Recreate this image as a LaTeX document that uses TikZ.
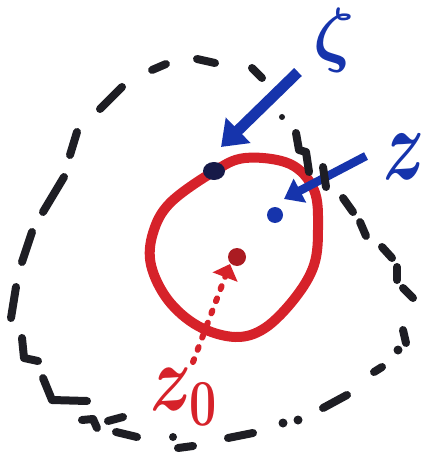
\documentclass[tikz,border=0pt]{standalone}
\usetikzlibrary{arrows.meta}
\definecolor{ink}{RGB}{30,30,36}
\definecolor{mred}{RGB}{214,34,42}
\definecolor{mblue}{RGB}{22,52,172}
\definecolor{navy}{RGB}{22,26,72}
\begin{document}
\begin{tikzpicture}[x=1pt,y=-1pt,
  inkdash/.style={draw=ink,line width=8pt,line cap=round,line join=round},
  inkdot/.style={fill=ink},
  redline/.style={draw=mred,line width=10pt,line cap=round,line join=round},
  bigarrow/.style={draw=mblue,line width=11pt,-{Triangle[length=24pt,width=34pt]}},
  smallarrow/.style={draw=mblue,line width=8.5pt,-{Triangle[length=18pt,width=26pt]}},
  dotarrow/.style={draw=mred,line width=6pt,line cap=round,dash pattern=on 3pt off 10pt,-{Triangle[length=14pt,width=26pt]}},
  bluelabel/.style={text=mblue,font=\Huge\boldmath,inner sep=0pt},
  redlabel/.style={text=mred,font=\Huge\boldmath,inner sep=0pt}]
\useasboundingbox (0,0) rectangle (425,457);

% red circle
\draw[redline] plot[smooth cycle,tension=0.6] coordinates {
  (213,172) (245,158) (290,164) (314,190) (318,228) (314,265)
  (295,298) (265,328) (235,337) (198,326) (168,300) (151,265)
  (153,233) (170,203)};

% center z0 and dotted arrow
\fill[mred!80!black] (237,257) circle (9pt);
\coordinate (zotail) at (193,362);
\coordinate (zotip) at (230,264);
\draw[dotarrow] (zotail) -- (zotip);
\node[redlabel,xscale=2.8,yscale=3.8] (zolabel) at (184,397) {$z_{\scriptscriptstyle 0}$};

% blue arrows and points
\coordinate (zetatail) at (298,72);
\coordinate (zetatip) at (221,147);
\draw[bigarrow] (zetatail) -- (zetatip);
\coordinate (ztail) at (366,156);
\coordinate (ztip) at (284,199);
\draw[smallarrow] (ztail) -- (ztip);
\fill[navy] (214,171) ellipse (11pt and 9pt);
\fill[mblue] (275,215) circle (8pt);
\node[bluelabel,scale=2.9] (zetalabel) at (334,40) {$\zeta$};
\node[bluelabel,xscale=2.8,yscale=4.1] (zlabel) at (404,157) {$z$};

% dashed outer contour
\draw[inkdash] (197,59) -- (215,63);
\draw[inkdash] (152,70) -- (166,64);
\draw[inkdash] (100,109) -- (122,87);
\draw[inkdash] (70,155) -- (77,132);
\draw[inkdash] (43,212) -- (64,177);
\draw[inkdash] (32,232) -- (22,262);
\draw[inkdash] (16,287) -- (11,318);
\draw[inkdash] (22,338) -- (24,358) -- (38,361);
\draw[inkdash] (43,378) -- (52,400) -- (87,401);
\draw[inkdash] (82,420) -- (93,419) -- (97,428);
\draw[inkdash] (108,421) -- (123,417);
\draw[inkdash] (116,432) -- (137,437);
\fill[inkdot] (173,437) circle (4pt);
\draw[inkdash] (178,448) -- (193,446);
\draw[inkdash] (228,438) -- (253,433);
\fill[inkdot] (283,423) circle (4.5pt);
\fill[inkdot] (298,420) circle (4.5pt);
\draw[inkdash] (323,408) -- (347,395);
\draw[inkdash] (374,372) -- (382,367);
\fill[inkdot] (398,350) circle (4.5pt);
\draw[inkdash] (403,330) -- (406,343);
\draw[inkdash] (403,288) -- (413,298);
\draw[inkdash] (397,267) -- (397,280);
\draw[inkdash] (382,247) -- (392,258);
\draw[inkdash] (360,222) -- (366,236);
\draw[inkdash] (343,198) -- (353,212);
\draw[inkdash] (323,167) -- (326,187);
\draw[inkdash] (296,133) -- (299,150) -- (306,152) -- (309,172);
\fill[inkdot] (282,117) circle (3pt);
\draw[inkdash] (252,68) -- (262,78);
\end{tikzpicture}
\end{document}
